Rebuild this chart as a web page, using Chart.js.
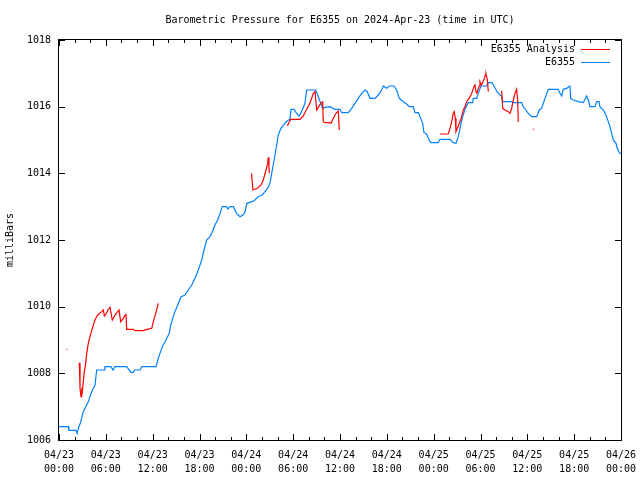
<!DOCTYPE html>
<html lang="en">
<head>
    <meta charset="UTF-8">
    <title>Barometric Pressure for E6355</title>
    <script src="https://cdn.jsdelivr.net/npm/chart.js"></script>
    <style>
        html, body { margin: 0; padding: 0; background: #fff; }
        canvas { display: block; }
    </style>
</head>
<body>
    <canvas id="pressureChart" width="640" height="480"></canvas>

    <script>
        // hours since 2024-04-23 00:00 UTC
        const stationHours = [0, 1.19, 1.28, 2.18, 2.31, 2.56, 2.75, 3.11, 3.75, 4.19, 4.61, 4.83, 5.80, 5.89, 6.66, 6.92, 7.17, 8.67,
            9.22, 9.52, 9.65, 10.38, 10.63, 12.43, 12.72, 13.23, 13.58, 14.13, 14.31, 14.77, 15.21, 15.63, 16.14, 16.56, 17.00,
            17.42, 17.85, 18.28, 18.58, 18.92, 19.34, 19.64, 19.98, 20.33, 20.63, 20.92, 21.48, 21.65, 21.94, 22.33, 22.76,
            23.19, 23.57, 23.83, 24.08, 24.72, 25.11, 25.49, 26.01, 26.39, 26.77, 27.03, 27.25, 27.45, 27.67, 27.89, 28.09,
            28.44, 28.82, 29.21, 29.59, 29.72, 30.11, 30.49, 30.74, 31.00, 31.26, 31.51, 31.73, 32.89, 33.22, 33.53, 33.78,
            34.08, 34.72, 35.36, 36.00, 36.22, 37.06, 37.50, 37.92, 38.34, 38.78, 39.20, 39.50, 39.84, 40.48, 40.90, 41.34,
            41.55, 41.98, 42.31, 42.92, 43.26, 43.60, 44.11, 44.54, 44.88, 45.39, 45.61, 46.03, 46.25, 46.59, 46.76, 47.10,
            47.31, 47.62, 48.59, 48.81, 50.09, 50.51, 50.86, 51.15, 51.37, 51.72, 52.01, 52.43, 53.00, 53.07, 53.51, 53.71,
            54.06, 54.79, 55.00, 55.47, 55.73, 56.11, 56.50, 56.71, 56.84, 57.99, 58.16, 59.27, 59.48, 59.82, 60.12, 60.56,
            61.20, 61.53, 61.84, 62.04, 62.68, 63.96, 64.18, 64.40, 64.60, 65.04, 65.46, 65.55, 65.89, 66.53, 67.17, 67.60,
            67.81, 68.02, 68.66, 68.88, 69.18, 69.30, 69.73, 70.07, 70.37, 70.58, 70.80, 71.01, 71.36, 71.52, 71.78, 72.00];
        const stationMb = [1006.40, 1006.40, 1006.29, 1006.29, 1006.20, 1006.40, 1006.52, 1006.85, 1007.15, 1007.45, 1007.65, 1008.10, 1008.10, 1008.20, 1008.20, 1008.10, 1008.20, 1008.20,
            1008.03, 1008.03, 1008.10, 1008.10, 1008.20, 1008.20, 1008.45, 1008.80, 1008.95, 1009.20, 1009.45, 1009.80, 1010.05, 1010.30, 1010.35, 1010.50, 1010.65,
            1010.85, 1011.10, 1011.40, 1011.70, 1012.00, 1012.10, 1012.25, 1012.45, 1012.60, 1012.80, 1013.00, 1013.00, 1012.93, 1013.00, 1013.00, 1012.80,
            1012.70, 1012.75, 1012.85, 1013.10, 1013.15, 1013.20, 1013.30, 1013.35, 1013.45, 1013.57, 1013.70, 1014.00, 1014.25, 1014.55, 1014.85, 1015.15,
            1015.35, 1015.47, 1015.57, 1015.62, 1015.92, 1015.92, 1015.78, 1015.72, 1015.82, 1015.95, 1016.10, 1016.50, 1016.50, 1016.30, 1016.10, 1015.95,
            1015.98, 1016.00, 1015.92, 1015.92, 1015.82, 1015.82, 1015.95, 1016.10, 1016.25, 1016.40, 1016.50, 1016.45, 1016.25, 1016.25, 1016.35, 1016.50,
            1016.62, 1016.55, 1016.62, 1016.62, 1016.50, 1016.25, 1016.15, 1016.08, 1016.00, 1016.00, 1015.82, 1015.82, 1015.70, 1015.50, 1015.22, 1015.18,
            1015.05, 1014.92, 1014.92, 1015.02, 1015.02, 1014.92, 1014.90, 1015.10, 1015.35, 1015.70, 1015.92, 1016.12, 1016.12, 1016.25, 1016.25, 1016.40,
            1016.62, 1016.62, 1016.72, 1016.72, 1016.62, 1016.45, 1016.35, 1016.32, 1016.15, 1016.15, 1016.12, 1016.12, 1016.00, 1015.90, 1015.80, 1015.70,
            1015.70, 1015.90, 1015.95, 1016.10, 1016.52, 1016.52, 1016.40, 1016.32, 1016.52, 1016.55, 1016.62, 1016.25, 1016.20, 1016.15, 1016.12, 1016.32,
            1016.20, 1016.00, 1016.00, 1016.15, 1016.15, 1016.00, 1015.90, 1015.75, 1015.55, 1015.40, 1015.20, 1015.00, 1014.90, 1014.75, 1014.62, 1014.58];

        // analysis has gaps (null = no data)
        const analysisHours = [0.95, 1.05, 1.5,
            2.60, 2.69, 2.82, 2.91, 2.99, 3.11, 3.24, 3.42, 3.55, 3.75, 3.97, 4.27, 4.61, 4.95, 5.47, 5.68, 5.81, 6.11, 6.32,
            6.53, 6.83, 6.96, 7.17, 7.52, 7.69, 7.90, 8.24, 8.46, 8.58, 8.67, 9.52, 9.74, 10.80, 11.24, 11.88, 12.08, 12.39,
            12.72, 18,
            24.66, 24.85, 25.40, 25.88, 26.17, 26.52, 26.74, 26.81, 26.90, 26.94, 28,
            29.26, 29.68, 30.87, 31.30, 31.73, 32.15, 32.58, 32.80, 33.01, 33.22, 33.53, 33.78, 33.86, 34.08, 34.63, 34.85,
            35.14, 35.49, 35.78, 35.91, 42,
            48.81, 49.87, 50.09, 50.31, 50.51, 50.64, 50.77, 50.86, 51.03, 51.37, 51.59, 51.79, 52.01, 52.23, 52.65, 52.87,
            53.16, 53.29, 53.42, 53.55, 53.68, 53.85, 53.93, 54.10, 54.28, 54.45, 54.61, 54.70, 54.87, 55.00, 56,
            56.71, 56.84, 57.13, 57.56, 57.78, 57.99, 58.12, 58.20, 58.42, 58.63, 58.76, 58.84, 60,
            60.70, 60.82];
        const analysisMb = [1008.72, 1008.72, null,
            1008.32, 1007.55, 1007.30, 1007.50, 1007.45, 1007.75, 1008.05, 1008.30, 1008.60, 1008.90, 1009.10, 1009.35, 1009.60, 1009.75, 1009.85, 1009.90, 1009.72, 1009.82, 1009.92,
            1009.98, 1009.60, 1009.65, 1009.75, 1009.85, 1009.90, 1009.55, 1009.65, 1009.75, 1009.78, 1009.32, 1009.32, 1009.28, 1009.28, 1009.32, 1009.35, 1009.55, 1009.80,
            1010.10, null,
            1014.00, 1013.50, 1013.55, 1013.65, 1013.80, 1014.10, 1014.30, 1014.48, 1014.20, 1014.00, null,
            1015.43, 1015.62, 1015.62, 1015.72, 1015.92, 1016.10, 1016.40, 1016.45, 1015.90, 1015.98, 1016.10, 1016.15, 1015.55, 1015.52, 1015.52, 1015.50,
            1015.65, 1015.80, 1015.87, 1015.30, null,
            1015.18, 1015.18, 1015.35, 1015.55, 1015.80, 1015.85, 1015.65, 1015.25, 1015.35, 1015.55, 1015.70, 1015.90, 1016.00, 1016.15, 1016.30, 1016.40,
            1016.60, 1016.65, 1016.45, 1016.40, 1016.52, 1016.62, 1016.75, 1016.65, 1016.72, 1016.82, 1016.95, 1016.98, 1016.82, 1016.45, null,
            1016.48, 1015.95, 1015.90, 1015.85, 1015.80, 1015.95, 1016.10, 1016.20, 1016.40, 1016.52, 1016.20, 1015.55, null,
            1015.32, 1015.32];

        const dayLabels = ['04/23', '04/24', '04/25', '04/26'];
        const yTicks = [1006, 1008, 1010, 1012, 1014, 1016, 1018];

        const FONT = "'DejaVu Sans Mono', 'Liberation Mono', monospace";
        Chart.defaults.font.family = FONT;
        Chart.defaults.font.size = 10;
        Chart.defaults.color = '#000';

        function toPoints(hours, values) {
            return hours.map((h, i) => ({ x: h, y: values[i] }));
        }

        // gnuplot-like frame, inward ticks and key inside the plot
        const gnuplotFrame = {
            id: 'gnuplotFrame',
            afterDatasetsDraw(chart) {
                const { ctx, chartArea: a, scales: { x, y } } = chart;
                ctx.save();
                ctx.strokeStyle = '#000';
                ctx.lineWidth = 1;
                ctx.beginPath();
                for (let h = 0; h <= 72; h += 2) {
                    const px = Math.round(x.getPixelForValue(h)) + 0.5;
                    const len = h % 6 === 0 ? 6 : 3;
                    ctx.moveTo(px, a.bottom); ctx.lineTo(px, a.bottom - len);
                    ctx.moveTo(px, a.top); ctx.lineTo(px, a.top + len);
                }
                yTicks.forEach(v => {
                    const py = Math.round(y.getPixelForValue(v)) + 0.5;
                    ctx.moveTo(a.left, py); ctx.lineTo(a.left + 6, py);
                    ctx.moveTo(a.right, py); ctx.lineTo(a.right - 6, py);
                });
                ctx.stroke();
                ctx.strokeRect(Math.round(a.left) - 0.5, Math.round(a.top) - 0.5,
                    Math.round(a.right - a.left) + 1, Math.round(a.bottom - a.top) + 1);

                // key
                ctx.font = '10px ' + FONT;
                ctx.textAlign = 'right';
                ctx.textBaseline = 'middle';
                chart.data.datasets.forEach((ds, i) => {
                    const ky = a.top + 9.5 + i * 13;
                    ctx.fillStyle = '#000';
                    ctx.fillText(ds.label, a.right - 46, ky);
                    ctx.strokeStyle = ds.borderColor;
                    ctx.beginPath();
                    ctx.moveTo(a.right - 40, ky);
                    ctx.lineTo(a.right - 11, ky);
                    ctx.stroke();
                });
                ctx.restore();
            }
        };

        const ctx = document.getElementById('pressureChart').getContext('2d');
        new Chart(ctx, {
            type: 'line',
            data: {
                datasets: [{
                    label: 'E6355 Analysis',
                    data: toPoints(analysisHours, analysisMb),
                    borderColor: 'rgb(255, 0, 0)',
                    borderWidth: 1.2,
                    pointRadius: 0,
                    tension: 0,
                    spanGaps: false
                }, {
                    label: 'E6355',
                    data: toPoints(stationHours, stationMb),
                    borderColor: 'rgb(0, 128, 255)',
                    borderWidth: 1.2,
                    pointRadius: 0,
                    tension: 0
                }]
            },
            options: {
                responsive: false,
                animation: false,
                layout: { padding: { left: 0, right: 19, top: 0, bottom: 0 } },
                plugins: {
                    legend: { display: false },
                    tooltip: { enabled: false },
                    title: {
                        display: true,
                        fullSize: false,
                        text: 'Barometric Pressure for E6355 on 2024-Apr-23 (time in UTC)',
                        font: { size: 10, weight: 'normal', lineHeight: 1.2 },
                        padding: { top: 14, bottom: 14 }
                    }
                },
                scales: {
                    x: {
                        type: 'linear',
                        min: 0,
                        max: 72,
                        grid: { display: false, drawTicks: false },
                        border: { display: false },
                        ticks: {
                            stepSize: 6,
                            autoSkip: false,
                            maxRotation: 0,
                            padding: 8,
                            font: { size: 10, lineHeight: 1.4 },
                            callback: value => {
                                const day = dayLabels[Math.floor(value / 24)];
                                const hr = String(value % 24).padStart(2, '0');
                                return [day, hr + ':00'];
                            }
                        },
                        afterFit: scale => {
                            scale.height = 40;
                            scale.paddingLeft = 0;
                            scale.paddingRight = 0;
                        }
                    },
                    y: {
                        min: 1006,
                        max: 1018,
                        grid: { display: false, drawTicks: false },
                        border: { display: false },
                        ticks: { stepSize: 2, padding: 8, callback: value => String(value) },
                        title: {
                            display: true,
                            text: 'milliBars',
                            font: { size: 10, lineHeight: 1.2 },
                            padding: { top: 4, bottom: 0 }
                        },
                        afterFit: scale => { scale.width = 59; }
                    }
                }
            },
            plugins: [gnuplotFrame]
        });
    </script>
</body>
</html>
